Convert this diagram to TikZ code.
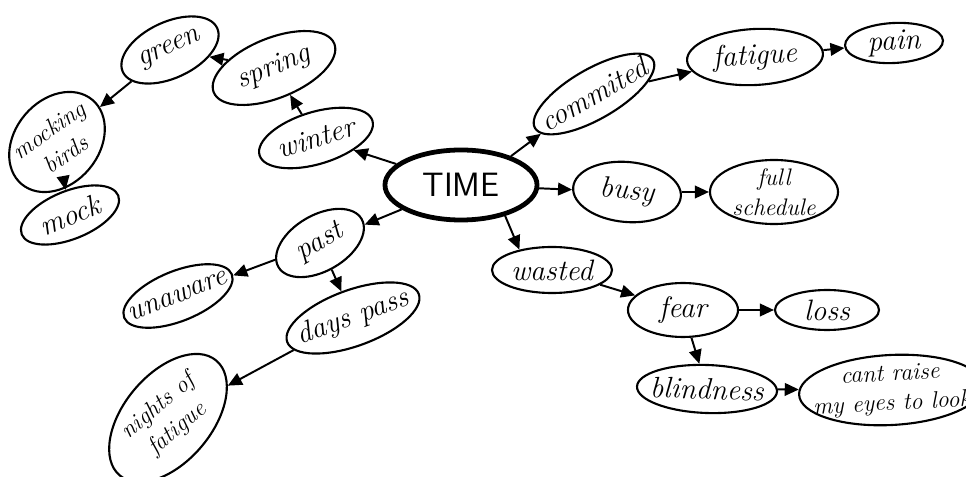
\documentclass[tikz,border=0pt]{standalone}
\usepackage{tikz}
\usetikzlibrary{shapes.geometric, arrows.meta}

\begin{document}
\begin{tikzpicture}[x=0.025cm, y=-0.025cm,
    idea/.style={ellipse, draw, line width=1.5pt, inner xsep=-8pt, inner ysep=-2pt,
      align=center, font=\fontsize{21}{22}\selectfont\itshape},
    hub/.style={idea, line width=3.4pt, font=\fontsize{24}{24}\selectfont\sffamily},
    twoline/.style={align=center, font=\fontsize{17}{21}\selectfont\itshape},
    link/.style={-{Triangle[length=10pt, width=9pt]}, line width=1.4pt}]
    \fill[white] (0, 0) rectangle (966, 477);
    \useasboundingbox (0, 0) rectangle (966, 477);

    \node[hub, minimum width=3.8cm, minimum height=1.75cm] (time) at (461, 185) {TIME};

    % left side
    \node[idea, minimum width=2.95cm, minimum height=1.3cm, rotate=17] (winter) at (316, 138) {winter};
    \node[idea, minimum width=3.25cm, minimum height=1.5cm, rotate=22] (spring) at (274, 68) {spring};
    \node[idea, minimum width=2.6cm, minimum height=1.4cm, rotate=25] (green) at (170, 50) {green};
    \node[idea, minimum width=2.75cm, minimum height=2.1cm, rotate=50] (birds) at (57, 142) {};
    \node[twoline, rotate=35] (birdstext) at (birds) {mocking\\birds};
    \node[idea, minimum width=2.6cm, minimum height=1.2cm, rotate=22] (mock) at (70, 215) {mock};
    \node[idea, minimum width=2.4cm, minimum height=1.4cm, rotate=30] (past) at (320, 243) {past};
    \node[idea, minimum width=2.9cm, minimum height=1.25cm, rotate=22] (unaware) at (178, 296) {unaware};
    \node[idea, minimum width=3.5cm, minimum height=1.4cm, rotate=20] (days) at (353, 318) {days pass};
    \node[idea, minimum width=3.75cm, minimum height=2.2cm, rotate=50] (nights) at (168, 418) {};
    \node[twoline, rotate=40] (nightstext) at (nights) {nights of\\fatigue};

    % right side
    \node[idea, minimum width=3.25cm, minimum height=1.25cm, rotate=30] (commited) at (594, 94) {commited};
    \node[idea, minimum width=3.4cm, minimum height=1.4cm, rotate=3] (fatigue) at (755, 57) {fatigue};
    \node[idea, minimum width=2.45cm, minimum height=1cm, rotate=3] (pain) at (894, 43) {pain};
    \node[idea, minimum width=2.7cm, minimum height=1.5cm, rotate=-5] (busy) at (627, 192) {busy};
    \node[idea, twoline, minimum width=3.2cm, minimum height=1.6cm] (schedule) at (774, 192) {full\\schedule};
    \node[idea, minimum width=3cm, minimum height=1.15cm] (wasted) at (552, 270) {wasted};
    \node[idea, minimum width=2.75cm, minimum height=1.35cm] (fear) at (683, 310) {fear};
    \node[idea, minimum width=2.6cm, minimum height=1cm] (loss) at (827, 310) {loss};
    \node[idea, minimum width=3.5cm, minimum height=1.2cm, rotate=-2] (blindness) at (707, 389) {blindness};
    \node[idea, twoline, inner xsep=-40pt, minimum width=4.6cm, minimum height=1.75cm, rotate=3] (cant) at (891, 390) {cant raise\\my eyes to look};

    \draw[link] (time) -- (winter);
    \draw[link] (winter) -- (spring);
    \draw[link] (spring) -- (green);
    \draw[link] (green) -- (birds);
    \draw[link] (birds) -- (mock);
    \draw[link] (time) -- (past);
    \draw[link] (past) -- (unaware);
    \draw[link] (past) -- (days);
    \draw[link] (days) -- (nights);

    \draw[link] (time.30) -- (commited);
    \draw[link] (commited) -- (fatigue);
    \draw[link] (fatigue) -- (pain);
    \draw[link] (time) -- (busy);
    \draw[link] (busy) -- (schedule);
    \draw[link] (time.-35) -- (wasted.148);
    \draw[link] (wasted) -- (fear);
    \draw[link] (fear) -- (loss);
    \draw[link] (fear) -- (blindness);
    \draw[link] (blindness) -- (cant);
\end{tikzpicture}
\end{document}
